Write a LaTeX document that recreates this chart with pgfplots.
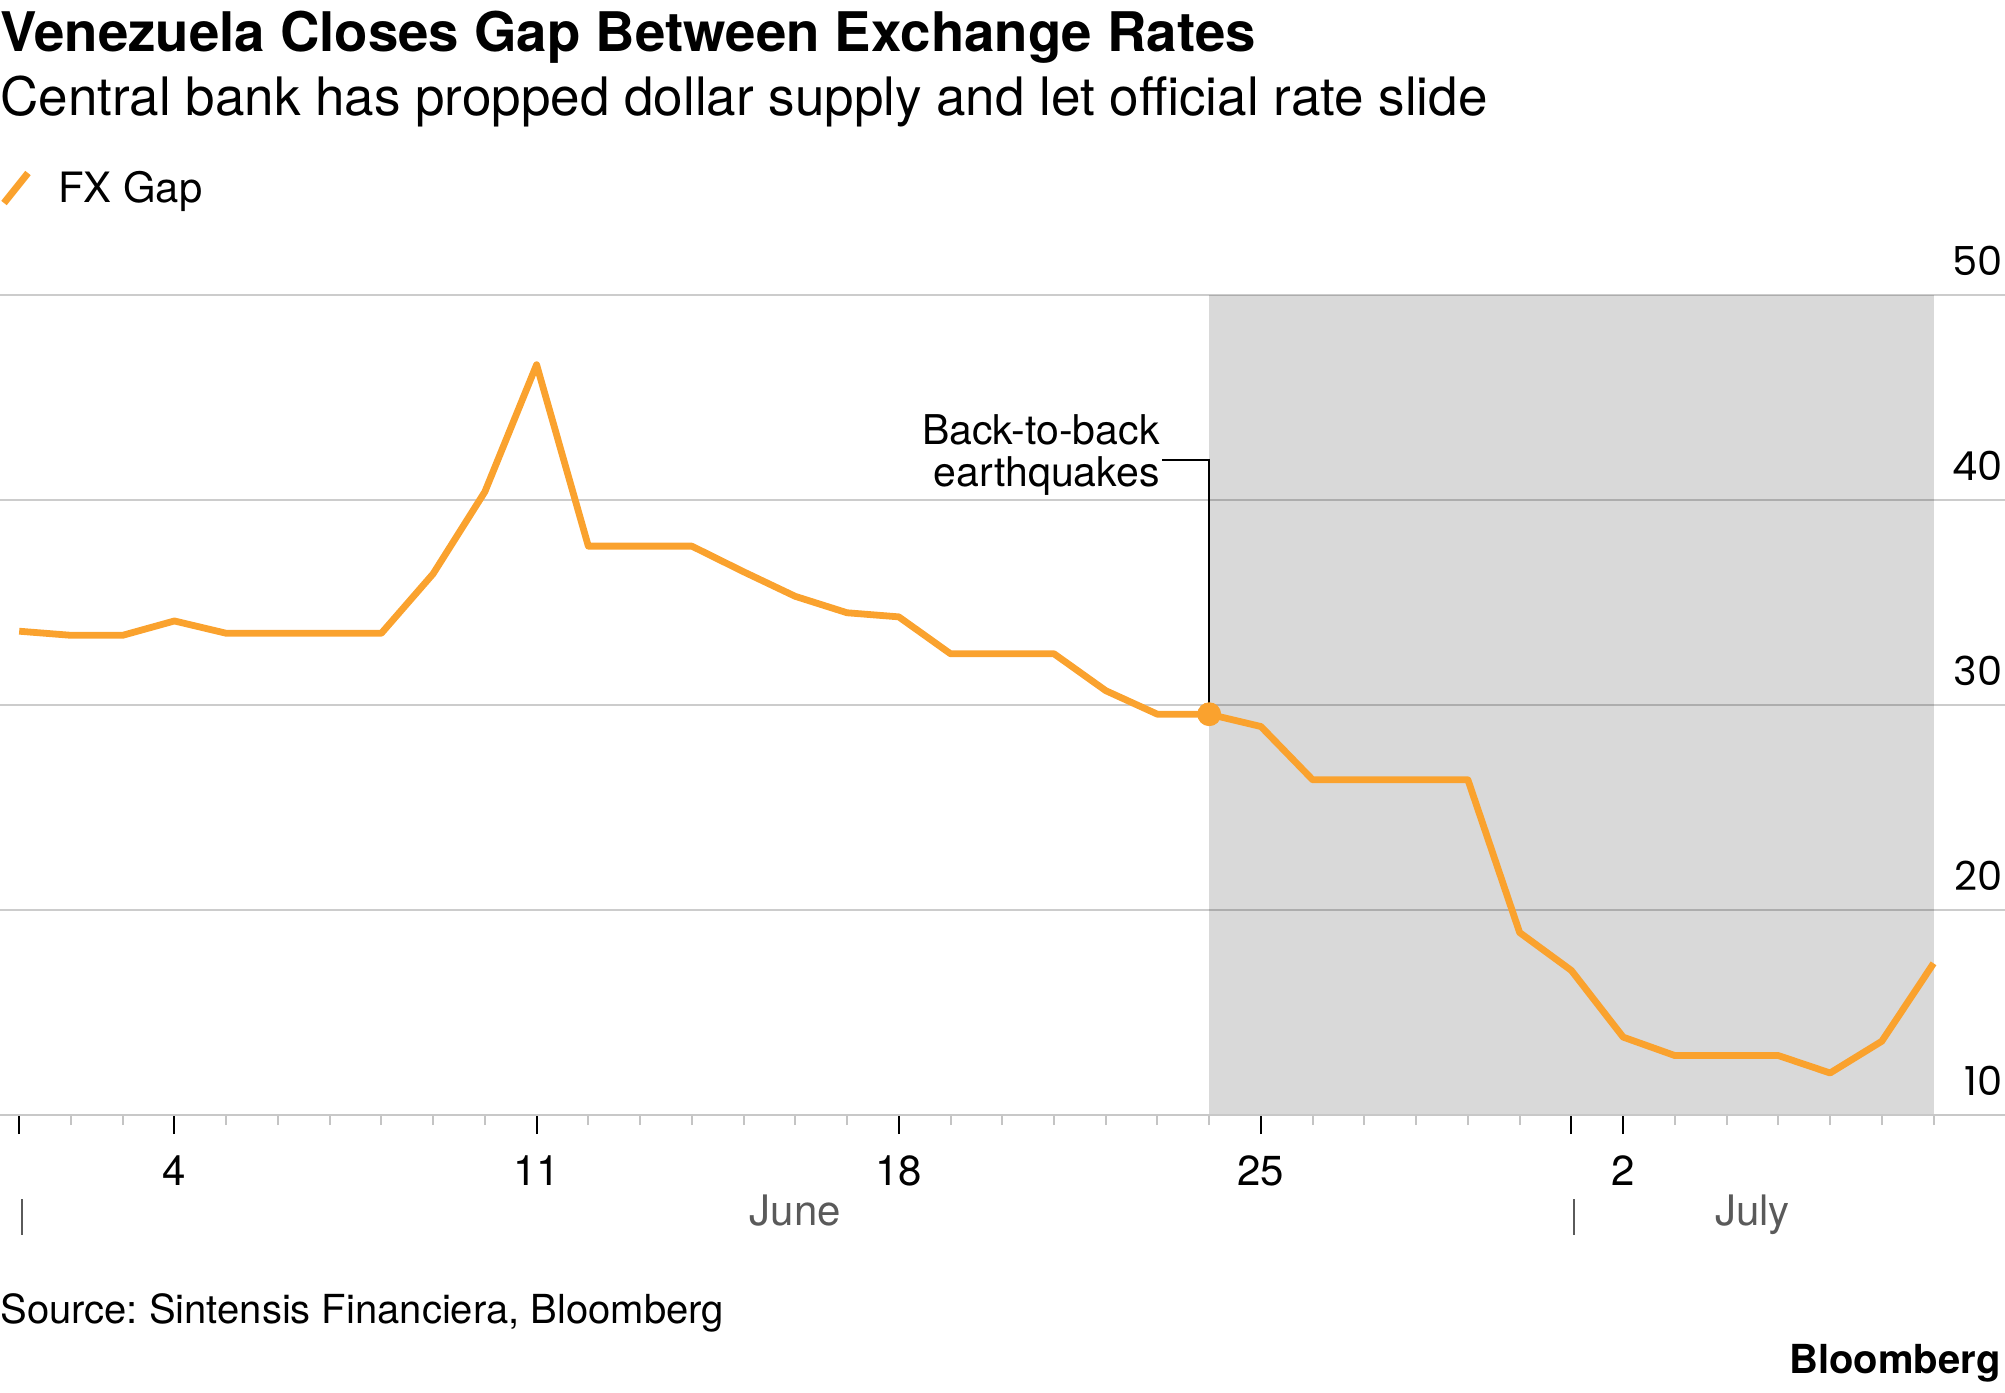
\documentclass[border=0pt]{standalone}
\usepackage{fontspec}
\setmainfont{TeX Gyre Heros}
\newfontfamily\numfont{Poppins}
\usepackage{pgfplots}
\pgfplotsset{compat=1.18}
\frenchspacing

\definecolor{fxorange}{HTML}{FAA22E}
\definecolor{shadegray}{HTML}{D9D9D9}
\definecolor{monthgray}{HTML}{5A5A5A}
\definecolor{minorgray}{HTML}{C4C4C4}
\definecolor{basegray}{HTML}{C8C8C8}

% FX gap by day (day 1 = June 1, day 31 = July 1)
\pgfplotstableread{
day gap
1  33.6
2  33.4
3  33.4
4  34.1
5  33.5
6  33.5
7  33.5
8  33.5
9  36.4
10 40.4
11 46.6
12 37.75
13 37.75
14 37.75
15 36.5
16 35.3
17 34.5
18 34.3
19 32.5
20 32.5
21 32.5
22 30.7
23 29.55
24 29.55
25 28.95
26 26.35
27 26.35
28 26.35
29 26.35
30 18.9
31 17.05
32 13.8
33 12.9
34 12.9
35 12.9
36 12.05
37 13.6
38 17.4
}\fxgap

\begin{document}
\begin{tikzpicture}

% headline block
\node[anchor=base west, inner sep=0pt, font=\fontsize{27.3}{30}\selectfont\bfseries]
  at (0,-25.5pt) {Venezuela Closes Gap Between Exchange Rates};
\node[anchor=base west, inner sep=0pt, font=\fontsize{26.5}{30}\selectfont]
  at (0,-57.5pt) {Central bank has propped dollar supply and let official rate slide};

% legend
\draw[fxorange, line width=3.5pt] (2pt,-101.5pt) -- (14pt,-86.5pt);
\node[anchor=base west, inner sep=0pt, font=\fontsize{20.9}{24}\selectfont]
  at (29pt,-101pt) {FX Gap};

\begin{axis}[
  at={(0,-557.5pt)}, anchor=south west,
  scale only axis, width=1002.5pt, height=410pt,
  set layers, clip=false,
  xmin=0.629, xmax=39.38, ymin=10, ymax=50,
  axis x line*=bottom, axis y line*=right,
  x axis line style={-, draw=basegray, line width=1.25pt},
  y axis line style={draw=none},
  ytick={10,20,30,40,50},
  ymajorgrids=true,
  major grid style={draw=black, opacity=0.2, line width=1pt},
  ytick style={draw=none},
  ytick align=inside,
  yticklabel style={anchor=base east, inner sep=0pt, xshift=-1pt, yshift=10pt,
    font=\numfont\fontsize{20}{24}\selectfont},
  /pgf/number format/assume math mode=true,
  xtick={1,4,11,18,25,31,32},
  xticklabels={,4,11,18,25,,2},
  minor xtick={1,...,38},
  xtick align=outside,
  major tick length=9.5pt,
  minor tick length=5pt,
  major tick style={draw=black, line width=1pt},
  minor tick style={draw=minorgray, line width=1pt},
  xticklabel style={anchor=base, inner sep=0pt, yshift=-25.5pt,
    font=\fontsize{21}{24}\selectfont},
]
% shaded period after the earthquakes
\begin{pgfonlayer}{axis background}
\fill[shadegray] (axis cs:24,10) rectangle (axis cs:38,50);
\end{pgfonlayer}

\addplot[fxorange, line width=3.4pt, line join=round] table[x=day, y=gap] {\fxgap};

% annotation leader
\draw[black, line width=0.8pt] (axis cs:24,29.55) -- (axis cs:24,41.95) -- (axis cs:23.09,41.95);
\node[anchor=base east, inner sep=0pt, xshift=-1pt, yshift=8pt, font=\fontsize{20.5}{24}\selectfont]
  at (axis cs:23.09,41.95) {Back-to-back};
\node[anchor=base east, inner sep=0pt, xshift=-1pt, yshift=-13pt, font=\fontsize{20.5}{24}\selectfont]
  at (axis cs:23.09,41.95) {earthquakes};

\addplot[only marks, mark=*, mark size=5.75pt, fxorange] coordinates {(24,29.55)};

% month labels and separators
\node[anchor=base, inner sep=0pt, yshift=-55pt, text=monthgray, font=\fontsize{21}{24}\selectfont]
  at (axis cs:16,10) {June};
\node[anchor=base, inner sep=0pt, yshift=-55pt, text=monthgray, font=\fontsize{21}{24}\selectfont]
  at (axis cs:34.5,10) {July};
\draw[monthgray, line width=1pt] ([yshift=-42pt]axis cs:1.05,10) -- ([yshift=-60pt]axis cs:1.05,10);
\draw[monthgray, line width=1pt] ([yshift=-42pt]axis cs:31.05,10) -- ([yshift=-60pt]axis cs:31.05,10);
\end{axis}

% footer
\node[anchor=base west, inner sep=0pt, font=\fontsize{20}{24}\selectfont]
  at (0,-661.5pt) {Source: Sintensis Financiera, Bloomberg};
\node[anchor=base east, inner sep=0pt, font=\fontsize{20}{24}\selectfont\bfseries]
  at (1000.5pt,-686.5pt) {Bloomberg};

% page frame
\pgfresetboundingbox
\path[use as bounding box] (0,0) rectangle (1002.5pt,-696pt);
\end{tikzpicture}
\end{document}
